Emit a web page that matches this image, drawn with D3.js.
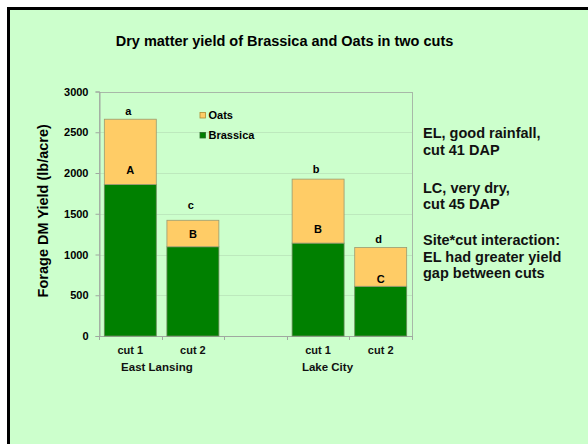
<!DOCTYPE html>
<html><head><meta charset="utf-8">
<script src="https://cdn.jsdelivr.net/npm/d3@7"></script>
<style>
html,body{margin:0;padding:0;background:#fff;}
svg{display:block;font-family:Arial,"Liberation Sans",sans-serif;font-weight:bold;}
</style></head>
<body>
<script>
// ---- data ----
const cutLabels = ["cut 1", "cut 2", "", "cut 1", "cut 2"];
const siteLabels = ["East Lansing", "Lake City"];
const brassica = [1860, 1095, null, 1140, 610];
const oats = [800, 325, null, 785, 475];
const upperLetters = ["A", "B", null, "B", "C"];
const upperLetterAt = [1990, 1200, null, 1262, 655];
const lowerLetters = ["a", "c", null, "b", "d"];
const lowerLetterAt = [2714, 1556, null, 1998, 1138];
const yTicks = [0, 500, 1000, 1500, 2000, 2500, 3000];
const seriesNames = ["Oats", "Brassica"];
const notes = [["EL, good rainfall,", "cut 41 DAP"], ["LC, very dry,", "cut 45 DAP"], ["Site*cut interaction:", "EL had greater yield", "gap between cuts"]];

const W = 588, H = 444;
const svg = d3.select("body").append("svg").attr("width", W).attr("height", H);

// frame
svg.append("rect").attr("x", 0).attr("y", 0).attr("width", W).attr("height", H).attr("fill", "#ffffff");
svg.append("rect").attr("x", 7).attr("y", 7).attr("width", W - 7).attr("height", H - 7).attr("fill", "#000");
svg.append("rect").attr("x", 10).attr("y", 10).attr("width", W - 10).attr("height", H - 10).attr("fill", "#ccffcc");

const L = 99, R = 412, T = 91.5, B = 336;
const x = d3.scaleBand().domain(d3.range(cutLabels.length)).range([L, R]).paddingInner(0.17).paddingOuter(0.085);
const y = d3.scaleLinear().domain([0, 3000]).range([B, T]);
const colors = { Oats: "#ffcc66", Brassica: "#008000" };

// gridlines
svg.append("g").selectAll("line").data(yTicks.filter(d => d > 0 && d < 3000)).join("line")
  .attr("x1", L).attr("x2", R).attr("y1", d => Math.round(y(d)) + 0.5).attr("y2", d => Math.round(y(d)) + 0.5)
  .attr("stroke", "#bde9bd").attr("stroke-width", 1);

// plot border
svg.append("rect").attr("x", L + 0.5).attr("y", Math.round(T) + 0.5).attr("width", R - L).attr("height", B - Math.round(T))
  .attr("fill", "none").attr("stroke", "#a8b8a8").attr("stroke-width", 1);

// y axis
const yAxis = d3.axisLeft(y).tickValues(yTicks).tickSize(4).tickPadding(7).tickFormat(d3.format("d"));
const gy = svg.append("g").attr("transform", `translate(${L + 0.5},0)`).call(yAxis);
gy.select(".domain").attr("stroke", "#a0a8a0");
gy.selectAll(".tick line").attr("stroke", "#a0a8a0");
gy.selectAll(".tick text").attr("fill", "#000").style("font-size", "11px").style("font-weight", "bold").style("font-family", "Arial,'Liberation Sans',sans-serif");

// x axis ticks at band boundaries
const bounds = d3.range(cutLabels.length + 1).map(i => L + i * (R - L) / cutLabels.length);
svg.append("g").selectAll("line").data(bounds).join("line")
  .attr("x1", d => Math.round(d) + 0.5).attr("x2", d => Math.round(d) + 0.5)
  .attr("y1", B).attr("y2", B + 4).attr("stroke", "#a0a8a0");
svg.append("line").attr("x1", L).attr("x2", R).attr("y1", B + 0.5).attr("y2", B + 0.5).attr("stroke", "#a0a8a0");

// bars
const idx = d3.range(cutLabels.length).filter(i => brassica[i] != null);
const gb = svg.append("g");
gb.selectAll("rect.bras").data(idx).join("rect").attr("class", "bras")
  .attr("x", i => x(i)).attr("width", x.bandwidth())
  .attr("y", i => y(brassica[i])).attr("height", i => y(0) - y(brassica[i]))
  .attr("fill", colors.Brassica).attr("stroke", "#6a8a5a").attr("stroke-width", 0.8);
gb.selectAll("rect.oats").data(idx).join("rect").attr("class", "oats")
  .attr("x", i => x(i)).attr("width", x.bandwidth())
  .attr("y", i => y(brassica[i] + oats[i])).attr("height", i => y(brassica[i]) - y(brassica[i] + oats[i]))
  .attr("fill", colors.Oats).attr("stroke", "#9a9a70").attr("stroke-width", 0.8);

// letters
svg.append("g").selectAll("text").data(idx).join("text")
  .attr("x", i => x(i) + x.bandwidth() / 2).attr("y", i => y(upperLetterAt[i]))
  .attr("text-anchor", "middle").style("font-size", "11px").text(i => upperLetters[i]);
svg.append("g").selectAll("text").data(idx).join("text")
  .attr("x", i => x(i) + x.bandwidth() / 2 - 2).attr("y", i => y(lowerLetterAt[i]))
  .attr("text-anchor", "middle").style("font-size", "11px").text(i => lowerLetters[i]);

// category labels
svg.append("g").selectAll("text").data(idx).join("text")
  .attr("x", i => x(i) + x.bandwidth() / 2).attr("y", 354)
  .attr("text-anchor", "middle").style("font-size", "11px").attr("fill", "#111").text(i => cutLabels[i]);
// site labels
const siteX = [x(0) + x.step() * 0.84, x(3) + x.step() * 0.565];
svg.append("g").selectAll("text").data(siteLabels).join("text")
  .attr("x", (d, i) => siteX[i]).attr("y", 371)
  .attr("text-anchor", "middle").style("font-size", "11.5px").attr("fill", "#111").text(d => d);

// y title
svg.append("text").attr("transform", `translate(48,${(T + B) / 2 - 3}) rotate(-90)`)
  .attr("text-anchor", "middle").style("font-size", "14.5px").text("Forage DM Yield (lb/acre)");

// title
svg.append("text").attr("x", 284.5).attr("y", 46).attr("text-anchor", "middle")
  .style("font-size", "14.5px").text("Dry matter yield of Brassica and Oats in two cuts");

// legend
const lg = svg.append("g").selectAll("g").data(seriesNames).join("g")
  .attr("transform", (d, i) => `translate(200,${112.5 + i * 20})`);
lg.append("rect").attr("width", 5.5).attr("height", 5.5).attr("fill", d => colors[d])
  .attr("stroke", d => d === "Oats" ? "#b08a30" : "#2a6a2a").attr("stroke-width", 0.8);
lg.append("text").attr("x", 8.5).attr("y", 6).style("font-size", "11px").text(d => d);

// notes
const noteStarts = [138, 192.7, 245];
const ng = svg.append("g");
notes.forEach((lines, k) => {
  lines.forEach((t, j) => {
    ng.append("text").attr("x", 423).attr("y", noteStarts[k] + j * 16.6)
      .style("font-size", "14.5px").attr("fill", "#111").text(t);
  });
});
</script>
</body></html>
